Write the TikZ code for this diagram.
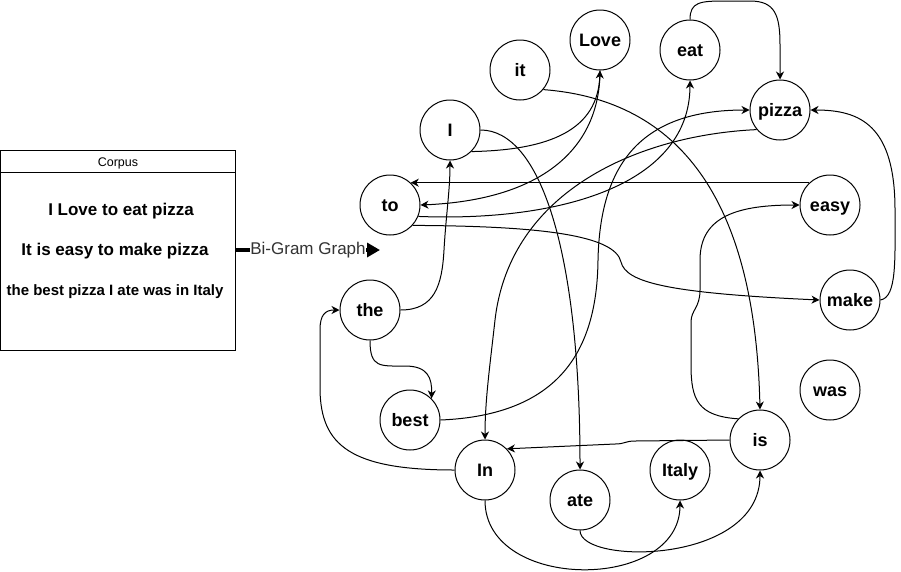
\documentclass[tikz,border=0pt]{standalone}
\usepackage{fontspec}
\setmainfont{Liberation Sans}
\usetikzlibrary{arrows.meta}

\tikzset{
  word/.style={draw, circle, minimum size=60pt, inner sep=0pt, line width=1pt,
    text height=16.3pt, text depth=3.8pt,
    font=\fontsize{18}{18}\selectfont\bfseries},
  bigram/.style={line width=1pt, -{Stealth[length=8pt,width=8pt,inset=2.5pt]}},
  sentence/.style={font=\fontsize{#1}{#1}\selectfont\bfseries},
}

\begin{document}
\begin{tikzpicture}[x=1pt,y=-1pt]
\useasboundingbox (0,0) rectangle (901,571);

% corpus box
\draw[line width=1pt] (0.5,150.5) rectangle (235.5,350);
\draw[line width=1pt] (0.5,172) -- (235.5,172);
\node[font=\fontsize{12.5}{13}\selectfont] (title) at (118,163) {Corpus};
\node[sentence=17] (s1) at (121,211) {I Love to eat pizza};
\node[sentence=17] (s2) at (115,251) {It is easy to make pizza};
\node[sentence=15] (s3) at (115,292) {the best pizza I ate was in Italy};

\coordinate (corpus-out) at (236,250);
\coordinate (graph-in) at (380,250);
\draw[line width=3.5pt, -{Triangle[length=13pt,width=14pt]}] (corpus-out) -- (graph-in)
  node[pos=0.5, fill=white, inner sep=0.5pt, text=black!80,
       font=\fontsize{17}{17}\selectfont] (graph-label) {Bi-Gram Graph};

% words
\node[word] (w-it)    at (520,70)  {it};
\node[word] (w-Love)  at (600,40)  {Love};
\node[word] (w-eat)   at (690,50)  {eat};
\node[word] (w-I)     at (450,130) {I};
\node[word] (w-pizza) at (780,110) {pizza};
\node[word] (w-to)    at (390,205) {to};
\node[word] (w-easy)  at (830,205) {easy};
\node[word] (w-the)   at (370,310) {the};
\node[word] (w-make)  at (850,300) {make};
\node[word] (w-was)   at (830,390) {was};
\node[word] (w-best)  at (410,420) {best};
\node[word] (w-is)    at (760,440) {is};
\node[word] (w-In)    at (485,470) {In};
\node[word] (w-Italy) at (680,470) {Italy};
\node[word] (w-ate)   at (580,500) {ate};

% bigrams
\draw[bigram] (w-I.-45) .. controls (550,150) and (598,130) .. (w-Love.south);
\draw[bigram] (w-Love.south) .. controls (600,150) and (540,200) .. (w-to.east);
\draw[bigram] (w-to.-22) .. controls (560,222) and (690,185) .. (w-eat.south);
\draw[bigram] (w-eat.north) .. controls (690,2) and (700,1) .. (725,1) -- (750,1)
  .. controls (775,1) and (780,15) .. (780,45) -- (w-pizza.north);
\draw[bigram] (w-it.-40) .. controls (680,100) and (755,200) .. (w-is.north);
\draw[bigram] (w-is.136) .. controls (698,416) and (691,400) .. (691,365) -- (691,322)
  .. controls (691,310) and (700,308) .. (700,290) -- (700,260)
  .. controls (700,215) and (740,205) .. (w-easy.west);
\draw[bigram] (w-easy.133) -- (w-to.47);
\draw[bigram] (w-to.-42) .. controls (540,226) and (615,235) .. (621,262)
  .. controls (626,282) and (665,293) .. (w-make.west);
\draw[bigram] (w-make.east) .. controls (897,297) and (895,260) .. (895,210)
  .. controls (895,125) and (860,110) .. (w-pizza.east);
\draw[bigram] (w-the.south) .. controls (370,368) and (380,366) .. (405,366)
  .. controls (428,366) and (432,378) .. (w-best.45);
\draw[bigram] (w-best.east) .. controls (560,415) and (597,350) .. (598,260)
  .. controls (600,165) and (640,110) .. (w-pizza.west);
\draw[bigram] (w-pizza.220) .. controls (640,135) and (510,190) .. (495,320)
  .. controls (490,365) and (485,400) .. (w-In.north);
\draw[bigram] (w-the.east) .. controls (435,310) and (442,285) .. (444,250)
  .. controls (446,215) and (450,190) .. (w-I.south);
\draw[bigram] (w-I.east) .. controls (540,130) and (580,250) .. (w-ate.north);
\draw[bigram] (w-ate.south) .. controls (580,565) and (760,565) .. (w-is.south);
\draw[bigram] (w-is.west) -- (635,441) .. controls (625,441) and (625,444) .. (615,444)
  -- (w-In.44);
\draw[bigram] (w-In.west) .. controls (350,470) and (321,445) .. (320,390) -- (320,330)
  .. controls (320,315) and (325,310) .. (w-the.west);
\draw[bigram] (w-In.south) .. controls (485,592) and (680,592) .. (w-Italy.south);
\end{tikzpicture}
\end{document}
